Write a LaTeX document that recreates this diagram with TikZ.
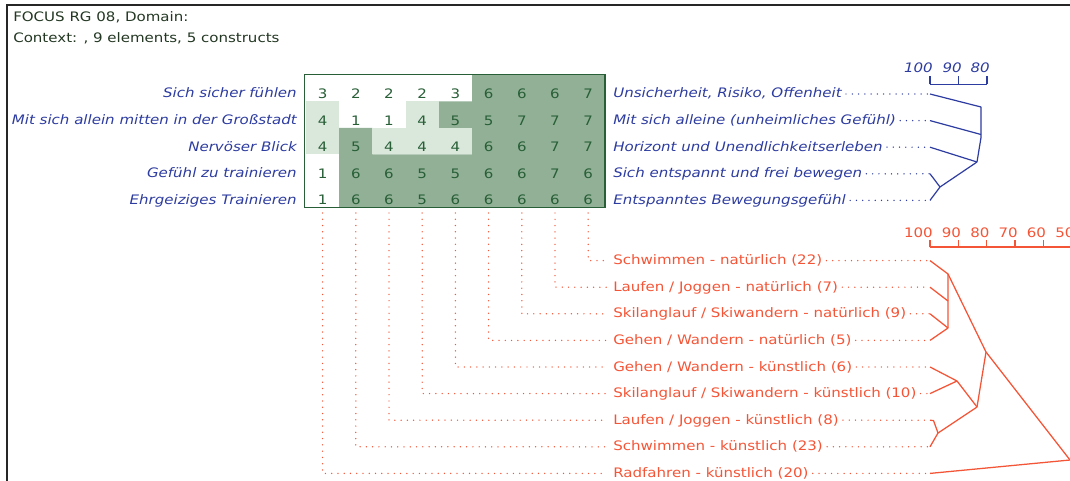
\documentclass[tikz,border=0pt]{standalone}
\usepackage{fontspec}
\setmainfont{DejaVu Sans}[FakeStretch=1.15]
\definecolor{focusblue}{RGB}{45,60,160}
\definecolor{focusred}{RGB}{245,85,55}
\definecolor{focusgreen}{RGB}{40,95,55}
\definecolor{densefill}{RGB}{145,176,150}
\definecolor{lightfill}{RGB}{218,232,220}
\definecolor{titlecol}{RGB}{35,55,35}
\begin{document}
\begin{tikzpicture}[x=0.75pt,y=-0.75pt,
  txt/.style={inner sep=0pt, font=\fontsize{9.8}{11}\selectfont},
  titletext/.style={txt, anchor=base west, text=titlecol},
  conleft/.style={txt, anchor=base east, text=focusblue, font=\fontsize{9.8}{11}\selectfont\itshape},
  conright/.style={txt, anchor=base west, text=focusblue, font=\fontsize{9.8}{11}\selectfont\itshape},
  elemlabel/.style={txt, anchor=base west, text=focusred},
  digit/.style={txt, anchor=base, text=focusgreen},
  bscale/.style={txt, anchor=base east, text=focusblue, font=\fontsize{9.8}{11}\selectfont\itshape},
  rscale/.style={txt, anchor=base east, text=focusred},
  bleader/.style={focusblue, line width=1.1pt, line cap=round, dash pattern=on 0pt off 4.7pt},
  rleader/.style={focusred, line width=1.1pt, line cap=round, dash pattern=on 0pt off 4.7pt},
  bline/.style={focusblue, line width=0.9pt, line join=round},
  rline/.style={focusred, line width=0.95pt, line join=round},
]
\useasboundingbox (0,0) rectangle (1070,481);
\clip (0,0) rectangle (1070,481);
\fill[white] (0,0) rectangle (1070,481);

% frame
\draw[black!85, line width=1.5pt] (7,490) -- (7,5) -- (1080,5);

% title
\node[titletext] (t1) at (13,22) {FOCUS RG 08, Domain:};
\node[titletext] (t2) at (13,43) {Context: , 9 elements, 5 constructs};

% grid shading
\fill[densefill] (472,75) -- (604.8,75) -- (604.8,207) -- (339.2,207) -- (339.2,128)
  -- (372.4,128) -- (372.4,154.5) -- (472,154.5) -- (472,128) -- (438.8,128)
  -- (438.8,101.5) -- (472,101.5) -- cycle;
\fill[lightfill] (306,101.5) rectangle (339.2,154.5);
\fill[lightfill] (405.6,101.5) rectangle (438.8,128);
\fill[lightfill] (372.4,128) rectangle (472,154.5);
\draw[focusgreen, line width=1.2pt] (304.5,74.5) rectangle (605,207.5);

% digits
\foreach \vals [count=\r] in {{3,2,2,2,3,6,6,6,7},{4,1,1,4,5,5,7,7,7},{4,5,4,4,4,6,6,7,7},{1,6,6,5,5,6,6,7,6},{1,6,6,5,6,6,6,6,6}}{
  \foreach \v [count=\c] in \vals {
    \node[digit] (d\r-\c) at ({322.6+33.2*(\c-1)}, {98.5+26.6*(\r-1)}) {\v};
  }
}

% construct leaf coordinates (blue)
\coordinate (bl1) at (930,94);
\coordinate (bl2) at (930,120.6);
\coordinate (bl3) at (930,147.2);
\coordinate (bl4) at (930,173.8);
\coordinate (bl5) at (930,200.4);

% left construct labels
\node[conleft] (cl1) at (297,98) {Sich sicher fühlen};
\node[conleft] (cl2) at (297,124.6) {Mit sich allein mitten in der Großstadt};
\node[conleft] (cl3) at (297,151.2) {Nervöser Blick};
\node[conleft] (cl4) at (297,177.8) {Gefühl zu trainieren};
\node[conleft] (cl5) at (297,204.4) {Ehrgeiziges Trainieren};

% right construct labels
\node[conright] (cr1) at (613,98) {Unsicherheit, Risiko, Offenheit};
\node[conright] (cr2) at (613,124.6) {Mit sich alleine (unheimliches Gefühl)};
\node[conright] (cr3) at (613,151.2) {Horizont und Unendlichkeitserleben};
\node[conright] (cr4) at (613,177.8) {Sich entspannt und frei bewegen};
\node[conright] (cr5) at (613,204.4) {Entspanntes Bewegungsgefühl};

\foreach \i in {1,...,5}{
  \path (cr\i.east) ++(4,0) coordinate (cro\i);
  \draw[bleader] (cro\i |- bl\i) -- (bl\i);
}

% blue scale
\node[bscale] (bs100) at (933,73) {100};
\node[bscale] (bs90) at (962,73) {90};
\node[bscale] (bs80) at (990,73) {80};
\coordinate (bt1) at (930,84.5);
\coordinate (bt2) at (958.5,84.5);
\coordinate (bt3) at (987,84.5);
\draw[bline] (bt1) -- (bt3);
\foreach \i in {1,2,3}{ \draw[bline] (bt\i) -- ++(0,-8); }

% blue dendrogram
\coordinate (bn1a) at (981,107);
\coordinate (bn1b) at (981,137.5);
\coordinate (bn2) at (981,134.5);
\coordinate (bn123) at (977,162);
\coordinate (bn45) at (940,187);
\draw[bline] (bl1) -- (bn1a) -- (bn1b) -- (bn123);
\draw[bline] (bl2) -- (bn2);
\draw[bline] (bl3) -- (bn123);
\draw[bline] (bl4) -- (bn45);
\draw[bline] (bl5) -- (bn45);
\draw[bline] (bn45) -- (bn123);

% element leaf coordinates (red)
\foreach \j in {1,...,9}{
  \coordinate (rl\j) at (930,{260.6+26.6*(\j-1)});
  \coordinate (ri\j) at (607,{260.6+26.6*(\j-1)});
}

% element labels
\node[elemlabel] (e1) at (613,264.6) {Schwimmen - natürlich (22)};
\node[elemlabel] (e2) at (613,291.2) {Laufen / Joggen - natürlich (7)};
\node[elemlabel] (e3) at (613,317.8) {Skilanglauf / Skiwandern - natürlich (9)};
\node[elemlabel] (e4) at (613,344.4) {Gehen / Wandern - natürlich (5)};
\node[elemlabel] (e5) at (613,371.0) {Gehen / Wandern - künstlich (6)};
\node[elemlabel] (e6) at (613,397.6) {Skilanglauf / Skiwandern - künstlich (10)};
\node[elemlabel] (e7) at (613,424.2) {Laufen / Joggen - künstlich (8)};
\node[elemlabel] (e8) at (613,450.8) {Schwimmen - künstlich (23)};
\node[elemlabel] (e9) at (613,477.4) {Radfahren - künstlich (20)};

\foreach \j in {1,...,9}{
  \path (e\j.east) ++(4,0) coordinate (eo\j);
  \draw[rleader] (eo\j |- rl\j) -- (rl\j);
}

% column drop lines
\foreach \c in {1,...,9}{
  \pgfmathtruncatemacro{\j}{10-\c}
  \coordinate (cb\c) at ({322.6+33.2*(\c-1)},213);
  \draw[rleader] (cb\c) |- (ri\j);
}

% red scale
\node[rscale] (rs100) at (933,237) {100};
\node[rscale] (rs90) at (961.3,237) {90};
\node[rscale] (rs80) at (989.7,237) {80};
\node[rscale] (rs70) at (1018,237) {70};
\node[rscale] (rs60) at (1046.3,237) {60};
\node[rscale] (rs50) at (1074.7,237) {50};
\foreach \i/\x in {1/930,2/958.3,3/986.7,4/1015,5/1043.3,6/1071.7}{
  \coordinate (rt\i) at (\x,247);
  \draw[rline] (rt\i) -- ++(0,-7);
}
\coordinate (rtend) at (1080,247);
\draw[rline] (rt1) -- (rtend);

% red dendrogram
\coordinate (rnA) at (948,274);
\coordinate (rnAb) at (948,328);
\coordinate (rn2) at (948,301);
\coordinate (rtop) at (986,352);
\coordinate (rk56) at (957,381);
\coordinate (rk) at (977,407);
\coordinate (rk7a) at (933.5,420.6);
\coordinate (rk78) at (938,433);
\coordinate (rroot) at (1070,460);
\draw[rline] (rl1) -- (rnA) -- (rnAb);
\draw[rline] (rl2) -- (rn2);
\draw[rline] (rl3) -- (rnAb);
\draw[rline] (rl4) -- (rnAb);
\draw[rline] (rnA) -- (rtop);
\draw[rline] (rl5) -- (rk56);
\draw[rline] (rl6) -- (rk56);
\draw[rline] (rk56) -- (rk);
\draw[rline] (rl7) -- (rk7a) -- (rk78);
\draw[rline] (rl8) -- (rk78);
\draw[rline] (rk78) -- (rk);
\draw[rline] (rk) -- (rtop);
\draw[rline] (rtop) -- (rroot);
\draw[rline] (rl9) -- (rroot);
\end{tikzpicture}
\end{document}
